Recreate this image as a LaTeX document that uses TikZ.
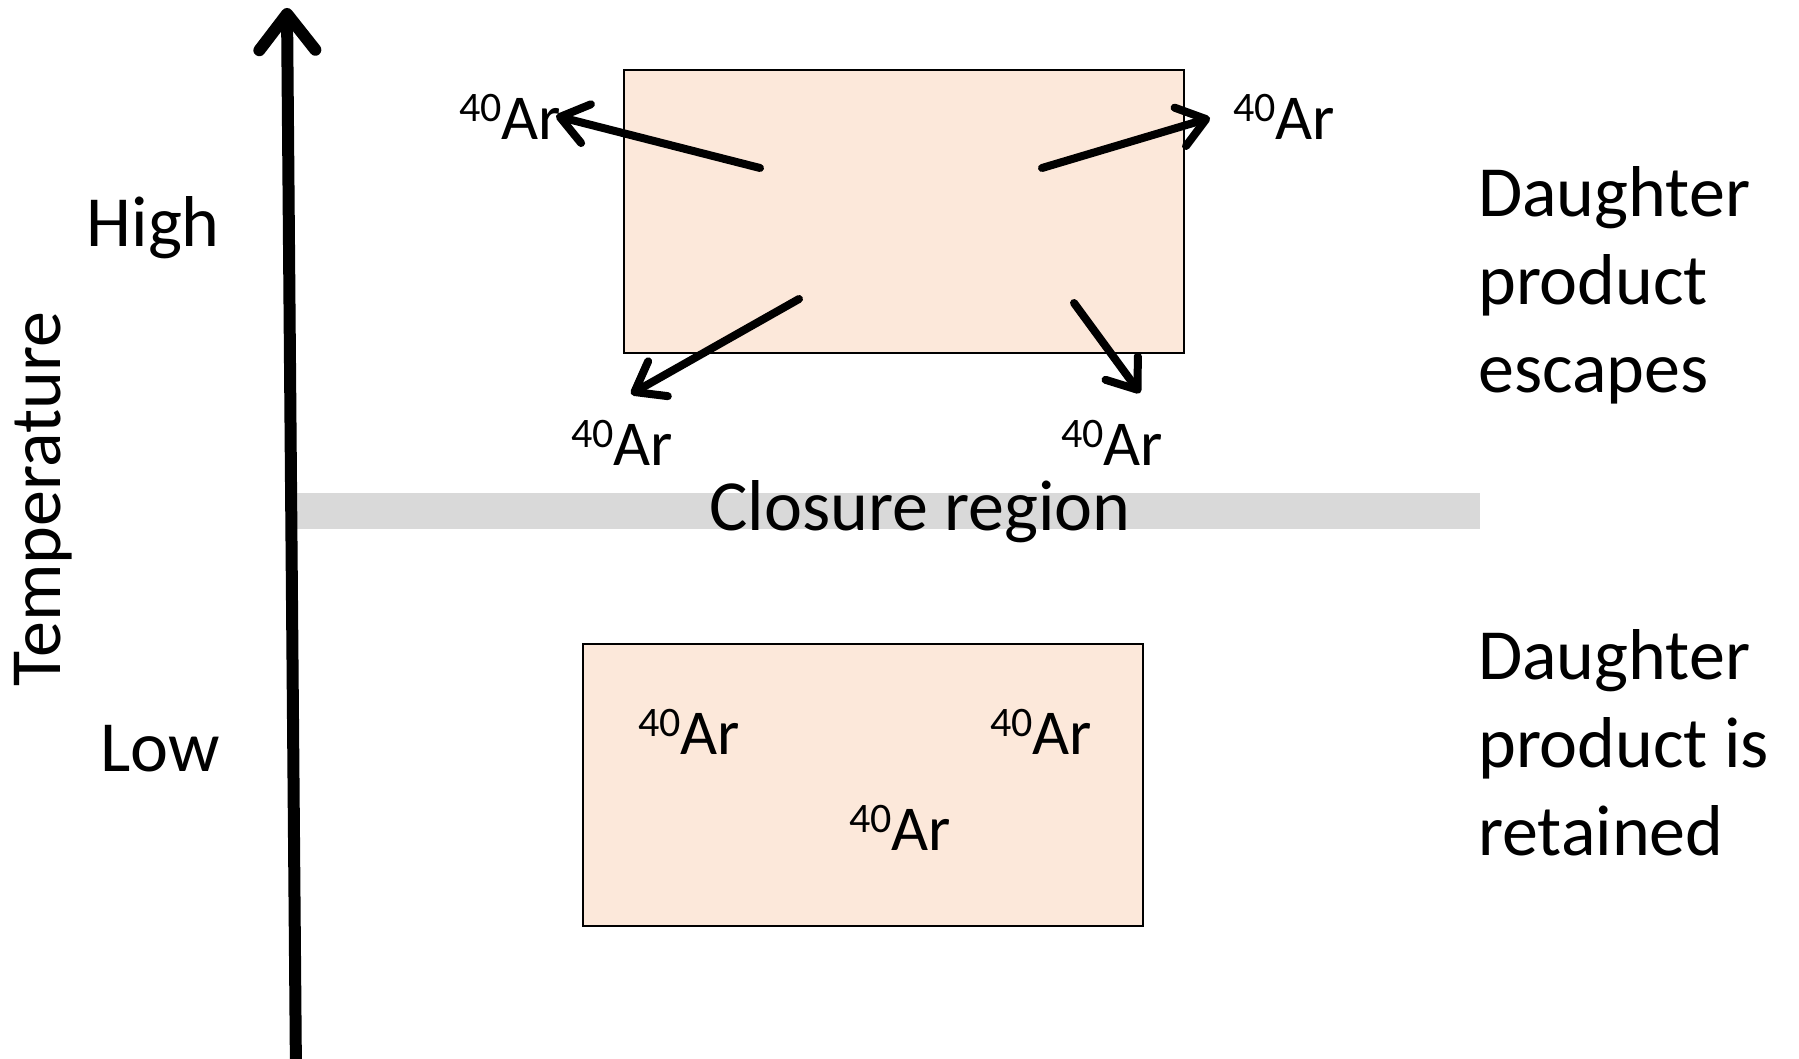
\documentclass[tikz,border=0pt]{standalone}
\usepackage{fontspec}
\setmainfont{Carlito}
\usetikzlibrary{arrows.meta}
\definecolor{grainfill}{HTML}{FCE8DA}
\definecolor{bandgray}{HTML}{D9D9D9}
\newcommand\ArIso{{\fontsize{64}{64}\selectfont\raisebox{18pt}{\fontsize{42}{42}\selectfont 40}Ar}}
\begin{document}
\begin{tikzpicture}[x=1pt,y=-1pt,
  lbl/.style={inner sep=0pt,font=\fontsize{72}{88}\selectfont},
  grain/.style={draw=black,line width=2pt,fill=grainfill},
  escape/.style={line width=8pt,line cap=round,
    -{Straight Barb[length=27pt,width=40pt,round]}},
  axis/.style={line width=12pt,line cap=round,
    -{Straight Barb[length=36pt,width=56pt,round]}}]
\useasboundingbox (0,0) rectangle (1799,1059);

% closure band
\fill[bandgray] (294,493) rectangle (1480,529);
\node[lbl,anchor=base] (closure) at (920,530) {Closure region};

% temperature axis
\coordinate (axbot) at (296,1075);
\coordinate (axtop) at (287,8);
\draw[axis] (axbot) -- (axtop);
\node[lbl,anchor=base,rotate=90] (temp) at (60,499) {Temperature};
\node[lbl,anchor=base east] (high) at (220,247) {High};
\node[lbl,anchor=base east] (low) at (220,771) {Low};

% hot grain: argon escapes
\draw[grain] (624,70) rectangle (1184,353);
\node[lbl,anchor=base west] (arTL) at (459,140) {\ArIso};
\node[lbl,anchor=base west] (arTR) at (1233,140) {\ArIso};
\node[lbl,anchor=base west] (arBL) at (571,465) {\ArIso};
\node[lbl,anchor=base west] (arBR) at (1061,465) {\ArIso};

\coordinate (s1) at (760,168); \coordinate (e1) at (556,116);
\coordinate (s2) at (1042,168); \coordinate (e2) at (1210,118);
\coordinate (s3) at (799,299); \coordinate (e3) at (631,394);
\coordinate (s4) at (1074,303); \coordinate (e4) at (1140,393);
\draw[escape] (s1) -- (e1);
\draw[escape] (s2) -- (e2);
\draw[escape] (s3) -- (e3);
\draw[escape] (s4) -- (e4);

% cool grain: argon retained
\draw[grain] (583,644) rectangle (1143,926);
\node[lbl,anchor=base west] (arR1) at (638,754) {\ArIso};
\node[lbl,anchor=base west] (arR2) at (990,754) {\ArIso};
\node[lbl,anchor=base west] (arR3) at (849,850) {\ArIso};

% captions (base anchor sits on the last line)
\node[lbl,anchor=base west,align=left] (escapes) at (1478,392)
  {Daughter\\product\\escapes};
\node[lbl,anchor=base west,align=left] (retained) at (1478,855)
  {Daughter\\product is\\retained};
\end{tikzpicture}
\end{document}
